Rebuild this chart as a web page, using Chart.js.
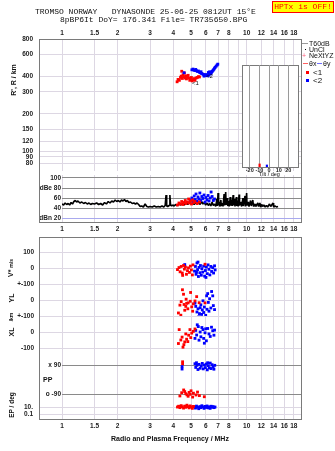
<!DOCTYPE html>
<html>
<head>
<meta charset="utf-8">
<script src="https://cdn.jsdelivr.net/npm/chart.js@4.4.1/dist/chart.umd.min.js"></script>
<style>
  body { margin: 0; background: #fff; }
  #wrap { position: relative; width: 335px; height: 451px; overflow: hidden; font-family: 'Liberation Sans', Arial, sans-serif; color: #111; }
  canvas { position: absolute; left: 0; }
  .txt { position: absolute; white-space: pre; line-height: 1; }
  .mono { font-family: 'Liberation Mono', 'DejaVu Sans Mono', monospace; font-size: 8px; }
  .rot { position: absolute; transform: translate(-50%, -50%) rotate(-90deg); white-space: pre; font-weight: bold; line-height: 1; }
  .box { position: absolute; border: 1px solid #7a7a7a; box-sizing: border-box; }
  .leg { position: absolute; font-size: 7px; line-height: 1; white-space: pre; }
  .sw { position: absolute; }
</style>
</head>
<body>
<div id="wrap">
  <canvas id="c-top" width="335" height="175" style="top:0"></canvas>
  <canvas id="c-amp" width="335" height="70" style="top:170px"></canvas>
  <canvas id="c-vs" width="335" height="61" style="top:230px"></canvas>
  <canvas id="c-yl" width="335" height="46" style="top:277px"></canvas>
  <canvas id="c-xl" width="335" height="54" style="top:309px"></canvas>
  <canvas id="c-pp" width="335" height="59" style="top:349px"></canvas>
  <canvas id="c-ep" width="335" height="43" style="top:394px"></canvas>

  <div class="box" style="left:242px;top:65px;width:57px;height:103px;background:#fff"></div>
  <canvas id="c-tilt" width="68" height="120" style="left:236px;top:60px"></canvas>

  <div class="box" style="left:39px;top:39px;width:263px;height:184px"></div>
  <div class="box" style="left:39px;top:237px;width:263px;height:183px"></div>

  <!-- header -->
  <div class="txt mono" style="left:35px;top:8px">TROMSO NORWAY   DYNASONDE 25-06-25 0812UT 15°E</div>
  <div class="txt mono" style="left:60px;top:16px">8pBP6It DoY= 176.341 File= TR735650.BPG</div>
  <div class="txt mono" style="left:272px;top:1px;width:62px;height:12px;box-sizing:border-box;border:1px solid #ff0000;background:#ffff00;color:#ff0000;text-align:center;line-height:10px">HPTx is OFF!</div>

  <!-- legend -->
  <div class="sw" style="left:302px;top:43px;width:6px;height:1px;background:#9a9a9a"></div>
  <div class="leg" style="left:309px;top:39.5px">T60dB</div>
  <div class="sw" style="left:305px;top:49px;width:1px;height:1px;background:#000"></div>
  <div class="leg" style="left:309px;top:45.5px">UnCl</div>
  <div class="leg" style="left:302px;top:51.5px;color:#ff5a7a">+</div>
  <div class="leg" style="left:309px;top:51.5px">NeXtYZ</div>
  <div class="sw" style="left:303px;top:63px;width:5px;height:1px;background:#ff6060"></div>
  <div class="leg" style="left:309px;top:59.5px">θx</div>
  <div class="sw" style="left:317px;top:63px;width:5px;height:1px;background:#7070ff"></div>
  <div class="leg" style="left:323px;top:59.5px">θy</div>
  <div class="sw" style="left:306px;top:71px;width:3px;height:3px;background:#ff0000"></div>
  <div class="leg" style="left:313px;top:69px;font-size:8px">&lt;1</div>
  <div class="sw" style="left:306px;top:79px;width:3px;height:3px;background:#0000ff"></div>
  <div class="leg" style="left:313px;top:77px;font-size:8px">&lt;2</div>

  <!-- trace tags -->
  <div class="txt" style="left:192px;top:80px;font-size:6px">&lt;1</div>
  <div class="txt" style="left:206px;top:73px;font-size:6px">&lt;2</div>

  <!-- axis titles -->
  <div class="rot" style="left:13px;top:80px;font-size:7px">R', R / km</div>
  <div class="rot" style="left:10px;top:268px;font-size:7px">V* <span style="font-size:5px">m/s</span></div>
  <div class="rot" style="left:11px;top:298px;font-size:7px">YL</div>
  <div class="rot" style="left:11px;top:317px;font-size:5px">/km</div>
  <div class="rot" style="left:11px;top:332px;font-size:7px">XL</div>
  <div class="txt" style="left:43px;top:376px;font-size:7px;font-weight:bold">PP</div>
  <div class="rot" style="left:12px;top:405px;font-size:6.5px">EP / deg</div>
  <div class="txt" style="left:259px;top:171.5px;font-size:5.5px">Tilt / deg</div>
  <div class="txt" style="left:0;top:435px;width:340px;text-align:center;font-size:7px;font-weight:bold">Radio and Plasma Frequency / MHz</div>
</div>

<script>
// ---- data (frequency in MHz) ----
const freqTicks = [1, 1.5, 2, 3, 4, 5, 6, 7, 8, 9, 10, 12, 14, 16, 18];

// virtual range R' (km) for the two echo traces
const rangeRed = [[4.20,362],[4.25,378],[4.32,372],[4.38,392],[4.42,402],[4.48,385],[4.52,412],[4.55,398],[4.60,426],[4.63,388],[4.68,404],[4.72,382],[4.78,395],[4.82,408],[4.86,388],[4.92,372],[4.97,380],[5.02,392],[5.07,368],[5.12,376],[5.18,384],[5.25,372],[5.32,388],[5.40,392],[5.48,398],[5.55,396],[4.45,440]];
const rangeBlue = [[4.58,428],[5.05,452],[5.12,458],[5.18,450],[5.24,446],[5.30,455],[5.36,444],[5.42,438],[5.48,442],[5.55,432],[5.62,428],[5.70,422],[5.78,418],[5.85,412],[5.92,408],[5.98,414],[6.04,406],[6.10,412],[6.16,404],[6.22,410],[6.28,416],[6.34,424],[6.40,420],[6.46,432],[6.52,440],[6.58,448],[6.64,456],[6.70,466],[6.76,474],[6.84,484],[6.92,494],[6.98,502],[6.20,430],[6.30,436],[5.88,402],[5.66,436]];

// amplitude (dB) noise trace and echo amplitudes
const ampTrace = [[1.00,48],[1.02,46],[1.04,50],[1.06,47],[1.08,49],[1.10,46],[1.12,51],[1.14,48],[1.16,53],[1.18,55],[1.20,52],[1.22,54],[1.25,50],[1.28,52],[1.31,49],[1.34,51],[1.37,48],[1.40,50],[1.43,47],[1.46,49],[1.50,48],[1.54,50],[1.58,47],[1.62,49],[1.66,46],[1.70,51],[1.74,48],[1.78,53],[1.82,50],[1.86,54],[1.90,52],[1.94,56],[1.98,53],[2.02,55],[2.06,52],[2.10,56],[2.14,54],[2.18,57],[2.22,53],[2.26,55],[2.30,51],[2.35,52],[2.40,49],[2.45,50],[2.50,48],[2.55,50],[2.60,47],[2.65,43],[2.70,44],[2.76,42],[2.82,48],[2.88,43],[2.94,42],[3.00,43],[3.08,42],[3.16,44],[3.24,42],[3.32,43],[3.40,42],[3.48,44],[3.56,42],[3.62,45],[3.66,66],[3.69,44],[3.74,43],[3.80,45],[3.84,66],[3.87,47],[3.92,44],[3.98,46],[4.05,44],[4.12,47],[4.20,45],[4.30,48],[4.40,46],[4.50,49],[4.60,46],[4.70,50],[4.80,47],[4.90,52],[5.00,48],[5.10,50],[5.20,47],[5.30,51],[5.40,48],[5.50,52],[5.60,47],[5.70,53],[5.80,48],[5.90,51],[6.00,46],[6.10,50],[6.20,45],[6.30,49],[6.40,44],[6.50,52],[6.60,45],[6.70,48],[6.80,43],[6.90,58],[6.95,44],[7.00,70],[7.05,46],[7.10,52],[7.15,43],[7.25,56],[7.30,44],[7.40,50],[7.45,43],[7.55,68],[7.60,45],[7.70,72],[7.75,46],[7.85,60],[7.90,44],[8.00,54],[8.05,43],[8.15,62],[8.20,45],[8.30,57],[8.35,44],[8.45,66],[8.50,45],[8.60,58],[8.65,43],[8.80,62],[8.85,44],[8.95,55],[9.00,43],[9.10,67],[9.15,45],[9.30,52],[9.40,43],[9.55,60],[9.60,44],[9.80,64],[9.85,43],[10.0,70],[10.05,45],[10.2,52],[10.3,43],[10.5,55],[10.6,44],[10.8,56],[10.9,43],[11.1,48],[11.2,43],[11.5,50],[11.6,43],[11.8,50],[11.9,42],[12.1,47],[12.2,43],[12.4,46],[12.6,42],[12.8,45],[13.0,42],[13.3,48],[13.5,43],[13.9,50],[14.0,42],[14.3,44],[14.5,42],[14.8,43]];
const ampRed = [[4.22,46],[4.30,50],[4.38,48],[4.45,53],[4.52,47],[4.58,51],[4.65,55],[4.70,49],[4.78,52],[4.85,58],[4.90,50],[4.97,54],[5.03,48],[5.10,56],[5.18,51],[5.25,53],[5.40,49],[5.55,52]];
const ampBlue = [[4.95,55],[5.05,60],[5.12,52],[5.20,64],[5.26,57],[5.32,68],[5.38,54],[5.45,62],[5.52,58],[5.58,70],[5.65,55],[5.72,63],[5.80,59],[5.88,66],[5.95,52],[6.02,61],[6.10,56],[6.18,65],[6.26,54],[6.34,60],[6.42,72],[6.50,63],[6.60,55],[6.70,58]];

// Doppler velocity V* (m/s)
const vstarRed = [[4.22,-8],[4.30,5],[4.36,-22],[4.42,12],[4.48,-30],[4.55,18],[4.60,-5],[4.66,8],[4.72,-38],[4.78,-15],[4.84,3],[4.90,-26],[4.96,14],[5.02,-10],[5.08,-42],[5.12,22],[5.95,26],[4.50,-45]];
const vstarBlue = [[4.62,24],[5.22,-18],[5.28,12],[5.32,-38],[5.38,34],[5.42,-8],[5.48,-52],[5.52,6],[5.58,-28],[5.62,18],[5.68,-44],[5.72,-2],[5.78,-24],[5.85,14],[5.92,-50],[5.98,-14],[6.05,8],[6.12,-34],[6.18,22],[6.25,-6],[6.32,-42],[6.40,12],[6.46,-20],[6.55,4],[6.62,-30],[6.70,16],[6.75,-10],[5.45,40],[6.02,-58],[5.35,-25]];

// echo location YL, XL (km)
const ylRed = [[4.49,64],[4.55,36],[4.97,47],[4.35,-32],[4.73,-21],[4.82,-18],[5.14,-24],[5.04,-43],[4.27,-81],[4.62,-64],[4.89,-115],[5.36,21],[5.25,-6],[5.53,-17],[5.95,-18],[4.42,-10],[4.68,-40],[4.80,-55],[5.10,-70],[4.58,-28],[4.95,-8],[4.40,-95],[4.70,5]];
const ylBlue = [[6.07,26],[6.46,53],[6.55,26],[6.30,8],[5.30,-40],[5.45,-55],[5.60,-48],[5.75,-62],[5.90,-44],[6.10,-58],[6.25,-70],[5.38,-75],[5.55,-85],[5.70,-90],[5.85,-78],[6.00,-96],[6.40,-50],[6.60,-35],[5.25,-20],[5.65,-30],[6.20,-15],[5.95,-110],[5.50,-105],[6.70,-60],[6.15,40],[5.80,-5]];
const xlRed = [[4.31,15],[4.93,15],[5.25,19],[4.47,-32],[4.73,-45],[4.62,-62],[4.27,-72],[4.57,-79],[5.04,-7],[4.85,-20],[5.14,4],[4.40,-50],[4.68,-12],[4.98,-35],[4.52,-95],[4.80,-60]];
const xlBlue = [[5.47,34],[5.72,28],[6.15,22],[6.55,8],[5.60,0],[5.95,-5],[5.36,-19],[5.65,-30],[5.85,-40],[6.35,-28],[5.52,-51],[6.05,-55],[5.30,10],[5.40,45],[5.80,15],[6.25,-12],[6.45,30],[6.65,-20],[5.25,-40],[6.00,20],[6.70,12],[5.90,-70]];

// polarization PP (deg) and EP (deg)
const ppRed = [[4.35,-102],[4.45,-82],[4.56,-65],[4.62,-75],[4.68,-88],[4.75,-95],[4.82,-104],[4.88,-80],[4.95,-92],[5.10,-109],[5.15,-85],[5.32,-96],[5.42,-78],[5.55,-100],[5.90,-107],[4.50,110],[4.50,96],[5.00,-70]];
const ppBlue = [[4.47,80],[4.47,65],[5.25,98],[5.30,75],[5.38,88],[5.45,62],[5.52,94],[5.60,70],[5.68,84],[5.75,100],[5.82,66],[5.90,90],[5.98,74],[6.05,96],[6.12,60],[6.20,86],[6.28,72],[6.35,102],[6.42,68],[6.50,92],[6.58,78],[6.65,64],[6.72,88],[5.35,104],[6.15,104]];
const epRed = [[4.22,12],[4.28,20],[4.35,8],[4.42,30],[4.48,14],[4.55,6],[4.62,22],[4.68,10],[4.75,40],[4.82,16],[4.88,7],[4.95,25],[5.02,12],[5.08,5],[5.15,18]];
const epBlue = [[5.20,14],[5.28,6],[5.35,22],[5.42,10],[5.50,4],[5.58,16],[5.65,8],[5.72,28],[5.80,12],[5.88,5],[5.95,18],[6.02,9],[6.10,24],[6.18,7],[6.26,14],[6.34,5],[6.42,20],[6.50,10],[6.58,16],[6.66,8],[6.74,12],[4.70,18]];

// tilt histogram inset (deg, count)
const tiltTicks = [-20, -10, 0, 10, 20];
const tiltRed = [[-9, 3]];
const tiltBlue = [[-3, 2]];

// ---- styling ----
const gridLight = '#ddd7e3';
const gridDark = '#8a8a8a';
const red = '#ff0000';
const blue = '#0000ff';

Chart.defaults.font.family = "'Liberation Sans', Arial, sans-serif";
Chart.defaults.font.size = 6.5;
Chart.defaults.font.weight = 'bold';
Chart.defaults.color = '#222';
Chart.defaults.animation = false;

const xy = pairs => pairs.map(p => ({ x: p[0], y: p[1] }));

const dots = (pairs, color) => ({
  data: xy(pairs), pointStyle: 'rect', pointRadius: 2,
  pointBorderWidth: 0, backgroundColor: color, borderColor: color
});

function freqAxis(min, position, labelRow) {
  return {
    type: 'logarithmic', position: position, min: min, max: 19.7,
    afterBuildTicks: s => { s.ticks = freqTicks.map(v => ({ value: v })); },
    afterFit: s => { s.height = labelRow; s.paddingLeft = 0; s.paddingRight = 0; },
    border: { display: false },
    grid: { color: gridLight, drawTicks: false },
    ticks: {
      display: labelRow > 0, padding: position === 'top' ? 2 : 3,
      autoSkip: false, maxRotation: 0,
      callback: v => (v === 9 ? '' : String(v))
    }
  };
}

function valueAxis(cfg) {
  return {
    type: cfg.type || 'linear', min: cfg.min, max: cfg.max,
    afterBuildTicks: s => { s.ticks = cfg.ticks.map(v => ({ value: v })); },
    afterFit: s => { s.width = cfg.width; s.paddingTop = 0; s.paddingBottom = 0; },
    border: { display: false },
    grid: { color: cfg.grid || gridLight, drawTicks: false },
    ticks: { padding: cfg.pad, callback: v => cfg.labels[cfg.ticks.indexOf(v)] }
  };
}

function draw(id, padTop, padBottom, scales, datasets) {
  new Chart(document.getElementById(id), {
    type: 'scatter',
    data: { datasets: datasets },
    options: {
      responsive: false, devicePixelRatio: 1,
      layout: { padding: { left: 0, right: 34, top: padTop, bottom: padBottom } },
      plugins: { legend: { display: false }, tooltip: { enabled: false } },
      scales: scales
    }
  });
}

// 1. virtual range panel
draw('c-top', 20, 0, {
  x: freqAxis(0.75, 'top', 19),
  y: valueAxis({ type: 'logarithmic', min: 69.3, max: 800, width: 39, pad: 6,
    ticks: [80, 90, 100, 120, 150, 200, 300, 400, 600, 800],
    labels: ['80', '90', '100', '120', '150', '200', '300', '400', '600', '800'] })
}, [dots(rangeBlue, blue), dots(rangeRed, red)]);

// 2. amplitude panel
const ampTicks = [20, 40, 60, 80, 100];
draw('c-amp', 5, 5, {
  x: freqAxis(1, 'bottom', 13),
  y: valueAxis({ min: 12, max: 106, width: 62, pad: 1, ticks: ampTicks,
    labels: ['dBn 20', '40', '60', 'dBe 80', '100'],
    grid: ctx => (ctx.tick && ctx.tick.value === 20 ? '#a9a9ee' : gridDark) })
}, [dots(ampRed, red), dots(ampBlue, blue),
    { data: xy(ampTrace), showLine: true, pointRadius: 0, borderColor: '#000', borderWidth: 1.6, borderJoinStyle: 'bevel' }]);

// 3. V*, YL, XL panels
draw('c-vs', 7, 7, {
  x: freqAxis(0.75, 'bottom', 0),
  y: valueAxis({ min: -100, max: 200, width: 39, pad: 5, ticks: [0, 100], labels: ['0', '100'] })
}, [dots(vstarRed, red), dots(vstarBlue, blue)]);

draw('c-yl', 7, 7, {
  x: freqAxis(0.75, 'bottom', 0),
  y: valueAxis({ min: -100, max: 100, width: 39, pad: 5, ticks: [0, 100], labels: ['0', '+-100'] })
}, [dots(ylRed, red), dots(ylBlue, blue)]);

draw('c-xl', 7, 7, {
  x: freqAxis(0.75, 'bottom', 0),
  y: valueAxis({ min: -150, max: 100, width: 39, pad: 5, ticks: [-100, 0, 100], labels: ['-100', '0', '+-100'] })
}, [dots(xlRed, red), dots(xlBlue, blue)]);

// 4. PP and EP panels
draw('c-pp', 7, 7, {
  x: freqAxis(1, 'bottom', 0),
  y: valueAxis({ min: -133.4, max: 145.9, width: 62, pad: 1, ticks: [-90, 90],
    labels: ['o -90', 'x 90'], grid: gridDark })
}, [dots(ppBlue, blue), dots(ppRed, red)]);

draw('c-ep', 7, 5, {
  x: freqAxis(0.75, 'bottom', 13),
  y: valueAxis({ type: 'logarithmic', min: 0.00454, max: 631, width: 39, pad: 6,
    ticks: [0.1, 10], labels: ['0.1', '10.'] })
}, [dots(epRed, red), dots(epBlue, blue)]);

// 5. tilt inset
new Chart(document.getElementById('c-tilt'), {
  type: 'bar',
  data: { datasets: [
    { data: xy(tiltRed), backgroundColor: red, barThickness: 1.5 },
    { data: xy(tiltBlue), backgroundColor: blue, barThickness: 1.5 }
  ] },
  options: {
    responsive: false, devicePixelRatio: 1,
    layout: { padding: { left: 6, right: 6, top: 5, bottom: 5 } },
    plugins: { legend: { display: false }, tooltip: { enabled: false } },
    scales: {
      x: {
        type: 'linear', min: -28, max: 30, offset: false,
        afterBuildTicks: s => { s.ticks = tiltTicks.map(v => ({ value: v })); },
        afterFit: s => { s.height = 8; s.paddingLeft = 0; s.paddingRight = 0; },
        border: { display: false },
        grid: { color: '#9a9a9a', drawTicks: false, offset: false },
        ticks: { padding: 0, font: { size: 5.5 }, maxRotation: 0, autoSkip: false }
      },
      y: { display: false, min: 0, max: 100 }
    }
  }
});
</script>
</body>
</html>
